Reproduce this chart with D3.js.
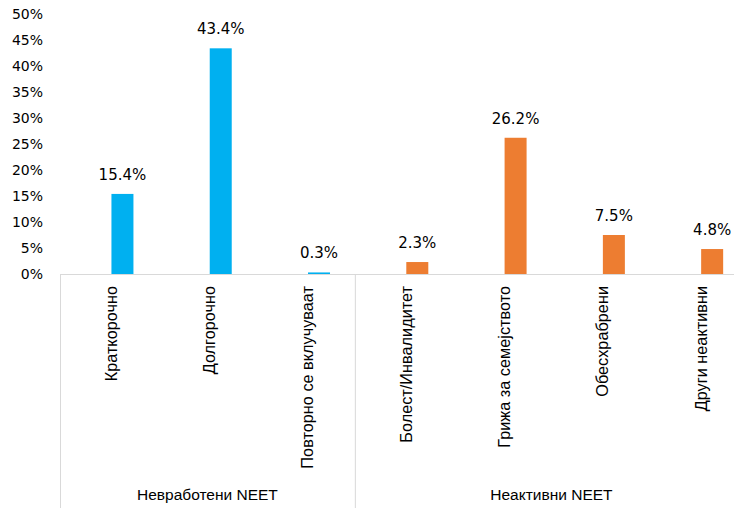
<!DOCTYPE html>
<html>
<head>
<meta charset="utf-8">
<script src="https://cdn.jsdelivr.net/npm/d3@7"></script>
<style>
  body { margin: 0; background: white; }
  svg { display: block; }
</style>
</head>
<body>
<script>
// data
const categories = ["Краткорочно", "Долгорочно", "Повторно се вклучуваат",
                    "Болест/Инвалидитет", "Грижа за семејството", "Обесхрабрени", "Други неактивни"];
const values = [15.4, 43.4, 0.3, 2.3, 26.2, 7.5, 4.8];
const groupOf = [0, 0, 0, 1, 1, 1, 1];
const groups = ["Невработени NEET", "Неактивни NEET"];
const groupColors = ["#00B0F0", "#ED7D31"];
const yTicks = [0, 5, 10, 15, 20, 25, 30, 35, 40, 45, 50];

const width = 734, height = 508;
const x0 = 60, x1 = 748, yBase = 274, yTop = 14;

const svg = d3.select("body").append("svg")
    .attr("width", width)
    .attr("height", height);

const x = d3.scaleBand()
    .domain(categories)
    .range([x0, x1]);

const y = d3.scaleLinear()
    .domain([0, 50])
    .range([yBase, yTop]);

const barW = 22, barOff = 13.3;

// y tick labels
svg.append("g")
    .selectAll("text")
    .data(yTicks)
    .enter().append("text")
    .attr("x", 43)
    .attr("y", d => y(d))
    .attr("dy", "0.36em")
    .attr("text-anchor", "end")
    .style("font", "14px 'DejaVu Sans', sans-serif")
    .style("fill", "#000")
    .text(d => d + "%");

// bars
svg.append("g")
    .selectAll("rect")
    .data(values)
    .enter().append("rect")
    .attr("x", (d, i) => x(categories[i]) + x.bandwidth() / 2 + barOff - barW / 2)
    .attr("y", d => y(d))
    .attr("width", barW)
    .attr("height", d => yBase - y(d))
    .attr("fill", (d, i) => groupColors[groupOf[i]]);

// value labels
svg.append("g")
    .selectAll("text")
    .data(values)
    .enter().append("text")
    .attr("x", (d, i) => x(categories[i]) + x.bandwidth() / 2 + barOff)
    .attr("y", d => y(d) - 14)
    .attr("text-anchor", "middle")
    .style("font", "15px 'DejaVu Sans', sans-serif")
    .style("fill", "#000")
    .text(d => d.toFixed(1) + "%");

// axis lines
const axisColor = "#d9d9d9";
svg.append("line")
    .attr("x1", x0).attr("x2", width)
    .attr("y1", yBase + 0.5).attr("y2", yBase + 0.5)
    .attr("stroke", axisColor);

// group separators (left edge of each group + right end)
const groupStarts = groups.map((g, gi) => x(categories[groupOf.indexOf(gi)]));
groupStarts.concat([x1]).forEach(px => {
  svg.append("line")
      .attr("x1", px + 0.5).attr("x2", px + 0.5)
      .attr("y1", yBase).attr("y2", height)
      .attr("stroke", axisColor);
});

// category labels (rotated)
svg.append("g")
    .selectAll("text")
    .data(categories)
    .enter().append("text")
    .attr("transform", d => `translate(${x(d) + x.bandwidth() / 2 + 2},286) rotate(-90)`)
    .attr("dy", "0.35em")
    .attr("text-anchor", "end")
    .style("font", "16.3px 'Liberation Sans', sans-serif")
    .style("fill", "#000")
    .text(d => d);

// group labels
svg.append("g")
    .selectAll("text")
    .data(groups)
    .enter().append("text")
    .attr("x", (g, gi) => {
      const start = groupStarts[gi];
      const end = gi + 1 < groups.length ? groupStarts[gi + 1] : x1;
      return (start + end) / 2;
    })
    .attr("y", 495)
    .attr("dy", "0.35em")
    .attr("text-anchor", "middle")
    .style("font", "15.5px 'Liberation Sans', sans-serif")
    .style("fill", "#000")
    .text(d => d);
</script>
</body>
</html>
